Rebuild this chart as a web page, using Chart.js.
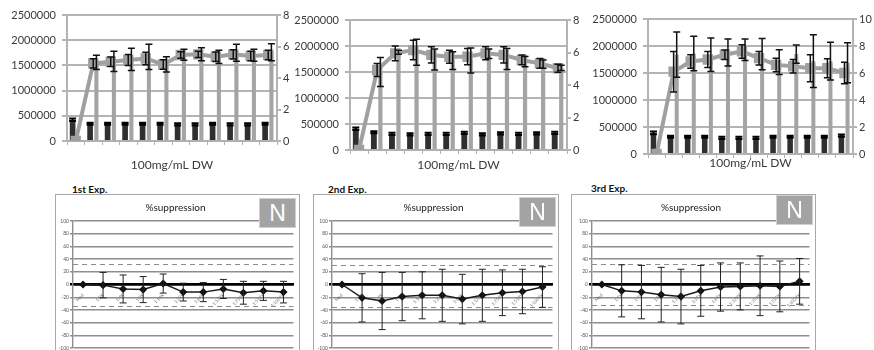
<!DOCTYPE html>
<html><head><meta charset="utf-8">
<script src="https://cdn.jsdelivr.net/npm/chart.js@4.4.1/dist/chart.umd.min.js"></script>
<style>
html,body{margin:0;padding:0;background:#fff;width:874px;height:350px;overflow:hidden;position:relative;font-family:Lato,'Open Sans',sans-serif;}
canvas.abs{position:absolute;}
.box{position:absolute;border:1px solid #a8a8a8;box-sizing:border-box;background:#fff;}
.box canvas{position:absolute;left:0;top:0;}
.nbox{position:absolute;width:37px;height:30px;background:#a3a3a3;border:1px solid #cfcfcf;color:#fff;font:23px 'Liberation Sans',Arial,sans-serif;text-align:center;line-height:29px;box-sizing:border-box;}
.exp{position:absolute;font:bold 10px Lato,sans-serif;color:#111;white-space:nowrap;}
</style></head>
<body>
<canvas id="t1" class="abs" style="left:0;top:0" width="295" height="175"></canvas>
<canvas id="t2" class="abs" style="left:285px;top:0" width="300" height="175"></canvas>
<canvas id="t3" class="abs" style="left:580px;top:0" width="294" height="175"></canvas>

<div class="exp" style="left:72px;top:183px">1st Exp.</div>
<div class="exp" style="left:328px;top:183px">2nd Exp.</div>
<div class="exp" style="left:591px;top:182px">3rd Exp.</div>

<div class="box" style="left:55px;top:194px;width:245px;height:170px"><canvas id="b1" width="243" height="168"></canvas></div>
<div class="box" style="left:313px;top:194px;width:246px;height:170px"><canvas id="b2" width="244" height="168"></canvas></div>
<div class="box" style="left:571px;top:194px;width:245px;height:170px"><canvas id="b3" width="243" height="168"></canvas></div>

<div class="nbox" style="left:259px;top:198px">N</div>
<div class="nbox" style="left:519px;top:197px">N</div>
<div class="nbox" style="left:776px;top:195px">N</div>

<script>
// ---------- data: top panels ----------
const topCategories = ["1","2","3","4","5","6","7","8","9","10","11","12"];
const topXTitle = "100mg/mL DW";

const p1Dark    = [420000,340000,340000,340000,340000,340000,330000,330000,340000,330000,330000,340000];
const p1DarkErr = [25000,20000,20000,20000,20000,20000,20000,20000,20000,20000,20000,20000];
const p1Gray    = [0,1560000,1580000,1620000,1670000,1520000,1710000,1720000,1670000,1750000,1700000,1760000];
const p1GrayErr = [0,140000,200000,220000,250000,150000,110000,130000,130000,170000,120000,170000];
const p1Line    = [0,4.93,5.03,5.14,5.24,4.86,5.46,5.5,5.35,5.5,5.4,5.46];
const p1LineErr = [0,0.3,0.3,0.35,0.4,0.3,0.2,0.2,0.3,0.3,0.3,0.3];
const p1RightMax = 8;

const p2Dark    = [410000,340000,310000,300000,310000,310000,330000,300000,320000,310000,320000,330000];
const p2DarkErr = [25000,20000,20000,20000,20000,20000,20000,20000,20000,20000,20000,20000];
const p2Gray    = [0,1500000,1880000,1880000,1740000,1720000,1720000,1850000,1750000,1700000,1650000,1580000];
const p2GrayErr = [0,280000,40000,250000,200000,170000,240000,90000,200000,100000,80000,50000];
const p2Line    = [0,4.92,5.95,6.15,5.85,5.74,5.74,5.95,5.85,5.54,5.33,5.03];
const p2LineErr = [0,0.4,0.45,0.6,0.5,0.4,0.5,0.4,0.5,0.3,0.3,0.25];
const p2RightMax = 8;

const p3Dark    = [390000,320000,320000,320000,300000,300000,300000,320000,320000,320000,320000,340000];
const p3DarkErr = [25000,20000,20000,20000,20000,20000,20000,20000,20000,20000,20000,20000];
const p3Gray    = [0,1840000,1860000,1840000,1880000,1930000,1850000,1700000,1850000,1720000,1720000,1690000];
const p3GrayErr = [0,420000,320000,310000,250000,200000,290000,230000,170000,490000,350000,370000];
const p3Line    = [0,6.1,6.85,7.0,7.35,7.6,7.1,6.6,6.5,6.35,6.35,6.0];
const p3LineErr = [0,1.5,0.5,0.6,0.35,0.5,0.5,0.5,0.5,1.0,0.7,0.8];
const p3RightMax = 10;

const leftMax = 2500000;
const leftStep = 500000;

// ---------- data: bottom panels ----------
const expLabels = ["Med","1:2X","1:4X","1:8X","1:16X","1:32X","1:64X","1:128X","1:256X","1:512X","1:1024X"];
const expTitle = "%suppression";
const exp1Values = [0,-1,-7,-8,1.5,-12,-12,-7,-13,-10,-12];
const exp1Errors = [0,20,22,20.5,15,14,15,15,18,15,17];
const exp1Dashed = [33,-34];
const exp2Values = [0,-21,-26,-19,-17,-17,-23,-17,-13,-11,-4];
const exp2Errors = [0,38,45,38,37,41,39,41,36,35,32];
const exp2Dashed = [30,-36];
const exp3Values = [0,-10,-12,-16,-19,-10,-4,-3,-2,-3,5];
const exp3Errors = [0,41,42,43,43,40,38,37,47,40,36];
const exp3Dashed = [33,-33];

// ---------- plugins ----------
const errorBars = {
  id: 'errorBars',
  afterDatasetsDraw(chart) {
    const ctx = chart.ctx;
    chart.data.datasets.forEach((ds, di) => {
      if (!ds.errors) return;
      const meta = chart.getDatasetMeta(di);
      const ys = chart.scales[ds.yAxisID || 'y'];
      ctx.save();
      ctx.strokeStyle = ds.errorColor || '#000';
      ctx.lineWidth = ds.errorWidth || 1.5;
      const cap = ds.errorCap || 3;
      meta.data.forEach((el, i) => {
        const v = ds.data[i], e = ds.errors[i];
        if (v == null || !e) return;
        const x = el.x;
        const y1 = ys.getPixelForValue(v + e);
        const y2 = ys.getPixelForValue(v - e);
        ctx.beginPath();
        ctx.moveTo(x, y1); ctx.lineTo(x, y2);
        ctx.moveTo(x - cap, y1); ctx.lineTo(x + cap, y1);
        ctx.moveTo(x - cap, y2); ctx.lineTo(x + cap, y2);
        ctx.stroke();
      });
      ctx.restore();
    });
  }
};
const dashLines = {
  id: 'dashLines',
  beforeDatasetsDraw(chart, args, opts) {
    if (!opts || !opts.levels) return;
    const ctx = chart.ctx, ys = chart.scales.y, a = chart.chartArea;
    ctx.save();
    ctx.strokeStyle = opts.color || '#8c8c8c';
    ctx.lineWidth = opts.width || 1.2;
    ctx.setLineDash(opts.dash || [5,4]);
    opts.levels.forEach(v => {
      const y = Math.round(ys.getPixelForValue(v)) + 0.5;
      ctx.beginPath(); ctx.moveTo(a.left, y); ctx.lineTo(a.right, y); ctx.stroke();
    });
    ctx.restore();
  }
};

const FONT = "Lato, 'Open Sans', sans-serif";
const TXT = '#3a3a3a';
const plain = v => String(v);

function makeTop(id, g) {
  new Chart(document.getElementById(id), {
    type: 'bar',
    data: {
      labels: topCategories,
      datasets: [
        { type: 'line', data: g.line, errors: g.lineErr, yAxisID: 'y1', order: 0,
          borderColor: '#a0a0a0', backgroundColor: '#a0a0a0', borderWidth: 4,
          pointStyle: 'rect', pointRadius: 4.5, pointBackgroundColor: '#a0a0a0', pointBorderColor: '#a0a0a0',
          errorColor: '#111', errorWidth: 1.5, errorCap: 3.5 },
        { data: g.dark, errors: g.darkErr, yAxisID: 'y', order: 1, backgroundColor: '#2f2f2f',
          barPercentage: 0.9, categoryPercentage: 0.72, errorColor: '#000', errorWidth: 2, errorCap: 3.5 },
        { data: g.gray, errors: g.grayErr, yAxisID: 'y', order: 2, backgroundColor: '#a4a4a4',
          barPercentage: 0.65, categoryPercentage: 0.72, errorColor: '#111', errorWidth: 1.5, errorCap: 3.5 }
      ]
    },
    options: {
      responsive: false, animation: false,
      layout: { padding: { top: g.top, bottom: 0, left: 0, right: 0 } },
      plugins: { legend: { display: false }, tooltip: { enabled: false } },
      scales: {
        x: {
          offset: true,
          grid: { display: true, drawOnChartArea: false, drawTicks: true, tickLength: 4, color: '#b0b0b0', offset: true },
          border: { color: '#b0b0b0', width: 2 },
          ticks: { display: false },
          title: { display: true, text: topXTitle, color: TXT, font: { family: FONT, size: 12 }, padding: { top: 0, bottom: g.titlePad } },
          afterFit: s => { s.height = g.xh; }
        },
        y: {
          position: 'left', min: 0, max: leftMax,
          ticks: { stepSize: leftStep, callback: plain, color: TXT, font: { family: FONT, size: 11 }, padding: 6 },
          grid: { color: '#b4b4b4', lineWidth: 2, tickLength: 5 },
          border: { color: '#b4b4b4', width: 2 },
          afterFit: s => { s.width = g.yl; }
        },
        y1: {
          position: 'right', min: 0, max: g.rmax,
          ticks: { stepSize: 2, callback: plain, color: TXT, font: { family: FONT, size: 11 }, padding: 2 },
          grid: { drawOnChartArea: false, color: '#b4b4b4', lineWidth: 2, tickLength: 4 },
          border: { color: '#b4b4b4', width: 2 },
          afterFit: s => { s.width = g.yr; }
        }
      }
    },
    plugins: [errorBars]
  });
}

makeTop('t1', { dark: p1Dark, darkErr: p1DarkErr, gray: p1Gray, grayErr: p1GrayErr, line: p1Line, lineErr: p1LineErr,
  rmax: p1RightMax, top: 15, xh: 34, yl: 67, yr: 18, titlePad: 3 });
makeTop('t2', { dark: p2Dark, darkErr: p2DarkErr, gray: p2Gray, grayErr: p2GrayErr, line: p2Line, lineErr: p2LineErr,
  rmax: p2RightMax, top: 20, xh: 25, yl: 65, yr: 18, titlePad: 3 });
makeTop('t3', { dark: p3Dark, darkErr: p3DarkErr, gray: p3Gray, grayErr: p3GrayErr, line: p3Line, lineErr: p3LineErr,
  rmax: p3RightMax, top: 19, xh: 21, yl: 68, yr: 21, titlePad: 5 });

function makeBottom(id, values, errors, dashed, yl, padRight) {
  new Chart(document.getElementById(id), {
    type: 'line',
    data: {
      labels: expLabels,
      datasets: [{ data: values, errors: errors, borderColor: '#1a1a1a', backgroundColor: '#1a1a1a', borderWidth: 1.5,
        pointStyle: 'rectRot', pointRadius: 3, pointBackgroundColor: '#111', pointBorderColor: '#111',
        errorColor: '#222', errorWidth: 1, errorCap: 3.5 }]
    },
    options: {
      responsive: false, animation: false,
      layout: { padding: { top: 0, bottom: 15, left: 0, right: padRight } },
      plugins: {
        legend: { display: false }, tooltip: { enabled: false },
        title: { display: true, text: expTitle, color: '#222', font: { family: FONT, size: 10, weight: 'normal' }, padding: { top: 7, bottom: 7 } },
        dashLines: { levels: dashed, color: '#8c8c8c', width: 1.2, dash: [5, 4] }
      },
      scales: {
        x: {
          type: 'category', position: { y: 0 }, offset: true,
          grid: { display: false },
          border: { color: '#000', width: 2.5 },
          ticks: { autoSkip: false, minRotation: 45, maxRotation: 45, padding: 0, color: '#777', font: { family: FONT, size: 4.5 } }
        },
        y: {
          min: -100, max: 100,
          ticks: { stepSize: 20, color: '#555', font: { family: FONT, size: 5 }, padding: 1 },
          grid: { color: c => (c.tick && c.tick.value === 0) ? '#000' : '#8e8e8e',
                  lineWidth: c => (c.tick && c.tick.value === 0) ? 2.5 : 1.4, tickLength: 3 },
          border: { color: '#8e8e8e', width: 1.4 },
          afterFit: s => { s.width = yl; }
        }
      }
    },
    plugins: [dashLines, errorBars]
  });
}

makeBottom('b1', exp1Values, exp1Errors, exp1Dashed, 17, 4);
makeBottom('b2', exp2Values, exp2Errors, exp2Dashed, 18, 5);
makeBottom('b3', exp3Values, exp3Errors, exp3Dashed, 20, 5);
</script>
</body></html>
